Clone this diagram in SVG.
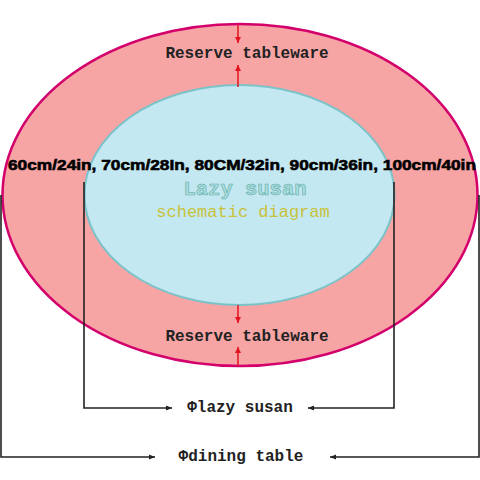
<svg xmlns="http://www.w3.org/2000/svg" width="480" height="480" viewBox="0 0 480 480">
<style>
.mono{font-family:"Liberation Mono","Courier New",monospace;font-weight:bold;font-size:16px;fill:#222}
.dim{stroke:#222;stroke-width:1.6;fill:none}
.red{stroke:#e0141e;stroke-width:1.5;fill:none}
</style>
<defs>
<marker id="ah" viewBox="0 0 10 10" refX="10" refY="5" markerWidth="8" markerHeight="6" orient="auto" markerUnits="userSpaceOnUse"><path d="M0,1 L10,5 L0,9 Z" fill="#222"/></marker>
<marker id="rh" viewBox="0 0 10 10" refX="10" refY="5" markerWidth="8" markerHeight="6" orient="auto" markerUnits="userSpaceOnUse"><path d="M0,0 L10,5 L0,10 Z" fill="#e0141e"/></marker>
</defs>
<rect width="480" height="480" fill="#fff"/>
<g id="dining-table">
<ellipse cx="240" cy="195" rx="237.5" ry="171" fill="#f7a4a4" stroke="#d3006c" stroke-width="2.5"/>
</g>
<g id="lazy-susan">
<ellipse cx="239.5" cy="195" rx="155" ry="110" fill="#c3e8f1" stroke="#7cc3c9" stroke-width="2"/>
<text x="245" y="195" text-anchor="middle" font-family="Liberation Mono,monospace" font-size="20.5" font-weight="bold" fill="#a9dedd" stroke="#5fa9a8" stroke-width="0.6">Lazy susan</text>
<text x="243" y="217" text-anchor="middle" font-family="Liberation Mono,monospace" font-size="17" fill="#c8c23a">schematic diagram</text>
</g>
<g id="connectors">
<line class="red" x1="238" y1="25" x2="238" y2="43" marker-end="url(#rh)"/>
<line class="red" x1="238" y1="87" x2="238" y2="65" marker-end="url(#rh)"/>
<line class="red" x1="238" y1="305" x2="238" y2="323" marker-end="url(#rh)"/>
<line class="red" x1="238" y1="366" x2="238" y2="347" marker-end="url(#rh)"/>
<polyline class="dim" points="84,182 84,408 172,408" marker-end="url(#ah)"/>
<polyline class="dim" points="394,182 394,408 308,408" marker-end="url(#ah)"/>
<polyline class="dim" stroke="#555" points="1,195 1,457 155,457" marker-end="url(#ah)"/>
<polyline class="dim" stroke="#555" points="479,195 479,457 330,457" marker-end="url(#ah)"/>
</g>
<g id="labels">
<text class="mono" x="247" y="58" text-anchor="middle">Reserve tableware</text>
<text class="mono" x="247" y="341" text-anchor="middle">Reserve tableware</text>
<text x="8" y="169.5" font-family="Liberation Sans,Arial,sans-serif" font-weight="bold" font-size="15.5" fill="#000" stroke="#000" stroke-width="0.6" textLength="468" lengthAdjust="spacingAndGlyphs">60cm/24in, 70cm/28In, 80CM/32in, 90cm/36in, 100cm/40in</text>
<text class="mono" x="240" y="412" text-anchor="middle">Φlazy susan</text>
<text class="mono" x="241" y="461" text-anchor="middle">Φdining table</text>
</g>
</svg>
